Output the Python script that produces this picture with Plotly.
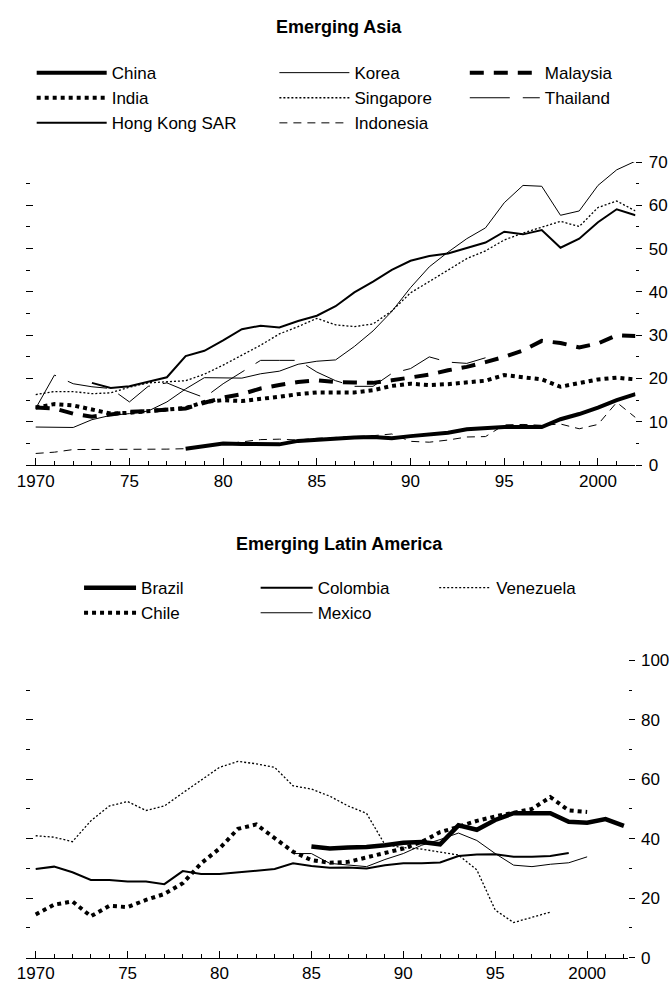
import plotly.graph_objects as go

# ---------------- Emerging Asia ----------------
asia_years = list(range(1970, 2003))
china_years = list(range(1978, 2003))
hk_years = list(range(1973, 2003))
thai_years = list(range(1970, 1995))

china = [3.8, 4.4, 5.0, 4.9, 4.8, 4.8, 5.6, 5.9, 6.2, 6.4, 6.5, 6.2, 6.7, 7.1, 7.5,
         8.3, 8.6, 8.8, 8.8, 8.8, 10.6, 11.8, 13.3, 15.0, 16.4]
india = [13.3, 14.1, 13.8, 12.8, 11.9, 12.1, 12.5, 12.7, 13.2, 14.6, 15.0, 14.8, 15.2,
         15.8, 16.4, 16.8, 16.8, 16.8, 17.3, 18.3, 18.8, 18.5, 18.7, 19.1, 19.5, 20.8,
         20.2, 19.8, 18.1, 19.0, 19.8, 20.2, 19.8]
hong_kong = [19.0, 17.8, 18.2, 19.3, 20.3, 25.2, 26.4, 28.8, 31.4, 32.2, 31.8, 33.3,
             34.5, 36.7, 39.9, 42.4, 45.1, 47.2, 48.3, 48.9, 50.2, 51.4, 53.9, 53.3,
             54.3, 50.2, 52.3, 56.1, 59.1, 57.7]
korea = [8.8, 8.8, 8.7, 10.5, 11.5, 11.9, 12.5, 14.6, 17.6, 20.2, 20.2, 20.1, 21.1,
         21.7, 23.3, 24.0, 24.3, 27.4, 31.0, 35.5, 41.0, 45.8, 49.2, 52.3, 54.8, 60.6,
         64.6, 64.4, 57.7, 58.7, 64.6, 68.2, 70.2]
singapore = [16.3, 17.0, 17.0, 16.5, 16.7, 18.0, 19.0, 19.3, 19.5, 21.0, 23.1, 25.4,
             27.7, 30.3, 32.0, 33.9, 32.4, 32.0, 32.6, 35.6, 39.8, 42.4, 45.1, 47.7,
             49.5, 52.0, 53.6, 54.9, 56.3, 55.1, 59.5, 61.0, 58.7]
malaysia = [13.3, 13.1, 11.9, 11.2, 11.7, 12.3, 12.5, 12.8, 13.1, 14.4, 15.6, 16.4,
            17.7, 18.5, 19.2, 19.6, 19.2, 19.1, 19.0, 19.6, 20.2, 20.9, 21.9, 22.7,
            23.8, 25.0, 26.5, 28.7, 28.2, 27.2, 28.1, 30.0, 29.8]
thailand = [13.1, 20.8, 18.8, 18.1, 17.7, 14.6, 18.2, 19.0, 17.2, 15.6, 18.8, 21.5,
            24.2, 24.2, 24.2, 21.5, 19.5, 18.2, 18.2, 21.2, 22.3, 25.0, 23.8, 23.5, 24.8]
indonesia = [2.7, 3.0, 3.6, 3.6, 3.6, 3.6, 3.6, 3.7, 3.8, 4.3, 4.9, 5.3, 5.9, 6.0, 5.8,
             6.2, 6.4, 6.6, 6.8, 7.2, 5.5, 5.3, 5.8, 6.5, 6.6, 9.3, 9.4, 9.2, 9.5, 8.4,
             9.4, 14.5, 11.0]

# ---------------- Emerging Latin America ----------------
brazil_years = list(range(1985, 2003))
chile_years = list(range(1970, 2001))
colombia_years = list(range(1970, 2000))
mexico_years = list(range(1984, 2001))
venezuela_years = list(range(1970, 1999))

brazil = [37.4, 36.7, 37.0, 37.2, 37.8, 38.6, 38.9, 38.1, 44.5, 43.0, 46.3, 48.6, 48.6,
          48.6, 45.7, 45.4, 46.6, 44.3]
chile = [14.5, 17.8, 18.9, 13.9, 17.4, 17.0, 19.4, 21.4, 25.0, 31.7, 36.7, 43.3, 44.8,
         40.0, 35.6, 32.8, 31.9, 32.2, 33.7, 35.0, 36.7, 38.9, 42.2, 44.0, 46.0, 47.5,
         48.6, 50.0, 54.0, 49.5, 49.0]
colombia = [29.8, 30.6, 28.7, 26.1, 26.1, 25.6, 25.6, 24.7, 29.1, 28.1, 28.1, 28.6,
            29.1, 29.8, 31.7, 30.8, 30.2, 30.3, 30.0, 31.1, 31.7, 31.7, 32.0, 34.2,
            34.7, 34.8, 33.9, 33.9, 34.2, 35.2]
mexico = [35.0, 35.0, 31.7, 31.1, 30.6, 33.0, 35.0, 37.8, 39.7, 41.9, 39.4, 35.0, 31.1,
          30.6, 31.4, 31.9, 33.9]
venezuela = [41.0, 40.5, 39.0, 46.0, 51.0, 52.5, 49.5, 51.0, 55.4, 59.8, 64.0, 66.0,
             65.2, 64.0, 57.8, 56.7, 54.3, 51.0, 48.5, 38.0, 37.0, 36.5, 35.6, 34.5,
             29.5, 16.0, 11.8, 13.5, 15.3]

year_ticks = [1970, 1975, 1980, 1985, 1990, 1995, 2000]
year_labels = ["1970", "75", "80", "85", "90", "95", "2000"]

W, H = 669, 998
FONT = "Liberation Sans, Arial, sans-serif"


def px_x(p):
    return p / W


def px_y(p):
    return 1 - p / H


fig = go.Figure()


def add(x, y, name, width, dash, xa, ya, legend):
    fig.add_trace(go.Scatter(
        x=x, y=y, name=name, mode="lines",
        line=dict(color="black", width=width, dash=dash),
        xaxis=xa, yaxis=ya, legend=legend, hoverinfo="skip",
    ))


# top panel, one legend per column
add(china_years, china, "China", 4, "solid", "x", "y", "legend")
add(asia_years, india, "India", 4, "4px,4px", "x", "y", "legend")
add(hk_years, hong_kong, "Hong Kong SAR", 2, "solid", "x", "y", "legend")
add(asia_years, korea, "Korea", 1, "solid", "x", "y", "legend2")
add(asia_years, singapore, "Singapore", 1.3, "2px,2px", "x", "y", "legend2")
add(asia_years, indonesia, "Indonesia", 1, "8px,6px", "x", "y", "legend2")
add(asia_years, malaysia, "Malaysia", 4, "14px,10px", "x", "y", "legend3")
add(thai_years, thailand, "Thailand", 1, "40px,13px", "x", "y", "legend3")

# bottom panel
add(brazil_years, brazil, "Brazil", 4.5, "solid", "x2", "y2", "legend4")
add(chile_years, chile, "Chile", 4, "4px,4px", "x2", "y2", "legend4")
add(colombia_years, colombia, "Colombia", 2, "solid", "x2", "y2", "legend5")
add(mexico_years, mexico, "Mexico", 1, "solid", "x2", "y2", "legend5")
add(venezuela_years, venezuela, "Venezuela", 1.3, "2px,2px", "x2", "y2", "legend6")

# empty traces so the left-hand tick axes are drawn
fig.add_trace(go.Scatter(x=[None], y=[None], xaxis="x", yaxis="y3", showlegend=False, hoverinfo="skip"))
fig.add_trace(go.Scatter(x=[None], y=[None], xaxis="x2", yaxis="y4", showlegend=False, hoverinfo="skip"))

tickfont = dict(family=FONT, size=17, color="black")

xcommon = dict(
    tickmode="array", tickvals=year_ticks, ticktext=year_labels,
    ticks="inside", ticklen=7, tickwidth=1, tickcolor="black",
    minor=dict(dtick=1, tick0=1970, ticks="inside", ticklen=4, tickcolor="black"),
    showline=True, linecolor="black", linewidth=1,
    showgrid=False, zeroline=False, tickfont=tickfont, fixedrange=True,
)


def yright(dom, top, step, anchor):
    return dict(domain=dom, range=[0, top], anchor=anchor, side="right",
                tickmode="linear", tick0=0, dtick=step, ticks="outside", ticklen=6,
                tickcolor="black",
                minor=dict(dtick=step / 2, ticks="outside", ticklen=3, tickcolor="black"),
                showgrid=False, zeroline=False, showline=False, tickfont=tickfont,
                ticklabelstandoff=3, fixedrange=True)


def yleft(over, top, step, anchor):
    return dict(overlaying=over, anchor=anchor, side="left", range=[0, top],
                tickmode="linear", tick0=0, dtick=step, ticks="inside", ticklen=7,
                tickcolor="black",
                minor=dict(dtick=step / 2, ticks="inside", ticklen=4, tickcolor="black"),
                showticklabels=False, showgrid=False, zeroline=False, showline=False,
                fixedrange=True)


def leg(x, y, itemwidth):
    return dict(orientation="v", x=px_x(x), y=px_y(y), xanchor="left", yanchor="top",
                itemwidth=itemwidth, tracegroupgap=0, bgcolor="rgba(0,0,0,0)",
                font=dict(family=FONT, size=17, color="black"),
                itemclick=False, itemdoubleclick=False)


fig.update_layout(
    width=W, height=H,
    margin=dict(l=0, r=0, t=0, b=0),
    paper_bgcolor="white", plot_bgcolor="white",
    font=dict(family=FONT, color="black"),
    showlegend=True,
    xaxis=dict(domain=[px_x(17), px_x(635)], range=[1969.47, 2002], anchor="y", **xcommon),
    xaxis2=dict(domain=[px_x(17), px_x(627)], range=[1969.46, 2002.2], anchor="y2", **xcommon),
    yaxis=yright([px_y(465), px_y(156)], 70, 10, "x"),
    yaxis3=yleft("y", 70, 10, "x"),
    yaxis2=yright([px_y(967), px_y(664)], 100, 20, "x2"),
    yaxis4=yleft("y2", 100, 20, "x2"),
    legend=leg(23, 47, 70),
    legend2=leg(269, 47, 70),
    legend3=leg(462, 47, 70),
    legend4=leg(71, 572, 52),
    legend5=leg(250, 572, 52),
    legend6=leg(431, 572, 52),
    annotations=[
        dict(text="<b>Emerging Asia</b>", x=0.5, y=px_y(18), xref="paper", yref="paper",
             showarrow=False, yanchor="middle", font=dict(family=FONT, size=18, color="black")),
        dict(text="<b>Emerging Latin America</b>", x=0.5, y=px_y(545), xref="paper", yref="paper",
             showarrow=False, yanchor="middle", font=dict(family=FONT, size=18, color="black")),
    ],
)

fig.write_html("out.html", config={"displayModeBar": False},
               post_script="document.body.style.margin='0';")
